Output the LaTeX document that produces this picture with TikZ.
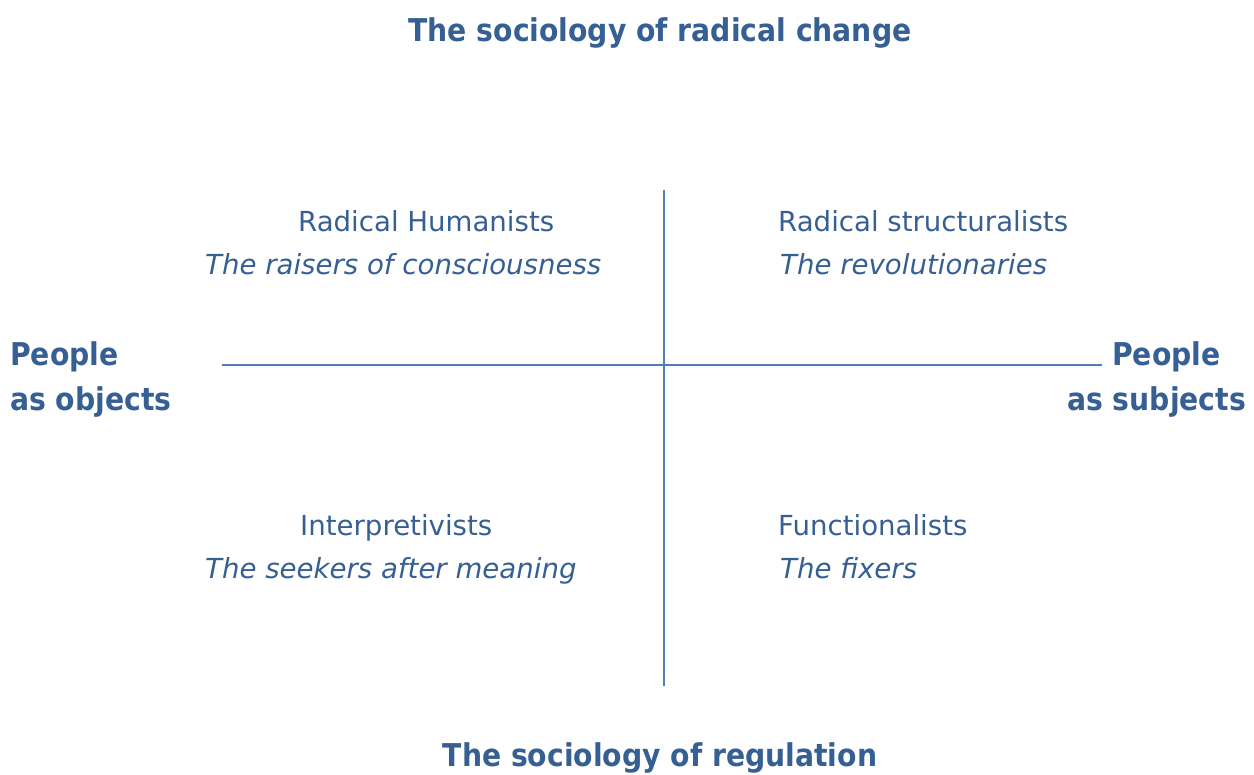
\documentclass[tikz,border=0pt]{standalone}
\usepackage{fontspec}
\setmainfont{DejaVu Sans}
\newfontfamily\headfont{DejaVu Sans Condensed}
\definecolor{ink}{HTML}{365F93}
\definecolor{rule}{HTML}{4F7DB5}
\tikzset{
  head/.style={text=ink, font=\headfont\fontsize{31.4}{36}\selectfont\bfseries, inner sep=0pt, anchor=base},
  lab/.style={text=ink, font=\fontsize{27.6}{32}\selectfont, inner sep=0pt, anchor=base west},
  sub/.style={text=ink, font=\fontsize{27.6}{32}\selectfont\itshape, inner sep=0pt, anchor=base west},
  axis/.style={draw=rule, line width=1.6pt}
}
\begin{document}
\begin{tikzpicture}[x=1pt,y=-1pt]
\useasboundingbox (0,0) rectangle (1254,775);
\node[head] (top) at (660,42) {The sociology of radical change};
\node[head] (bot) at (660,766) {The sociology of regulation};
\node[head, anchor=base west] (lo1) at (10,366) {People};
\node[head, anchor=base west] (lo2) at (10,411) {as objects};
\node[head, anchor=base west] (ro1) at (1112,366) {People};
\node[head, anchor=base west] (ro2) at (1067,411) {as subjects};
\coordinate (vt) at (664,190);
\coordinate (vb) at (664,686);
\coordinate (hl) at (222,365);
\coordinate (hr) at (1102,365);
\draw[axis] (vt) -- (vb);
\draw[axis] (hl) -- (hr);
\node[lab] (rh) at (298,232) {Radical Humanists};
\node[sub] (rhs) at (205,275) {The raisers of consciousness};
\node[lab] (rs) at (778,232) {Radical structuralists};
\node[sub] (rss) at (780,275) {The revolutionaries};
\node[lab] (ip) at (300,536) {Interpretivists};
\node[sub] (ips) at (205,578) {The seekers after meaning};
\node[lab] (fn) at (778,536) {Functionalists};
\node[sub] (fns) at (780,578) {The fixers};
\end{tikzpicture}
\end{document}
